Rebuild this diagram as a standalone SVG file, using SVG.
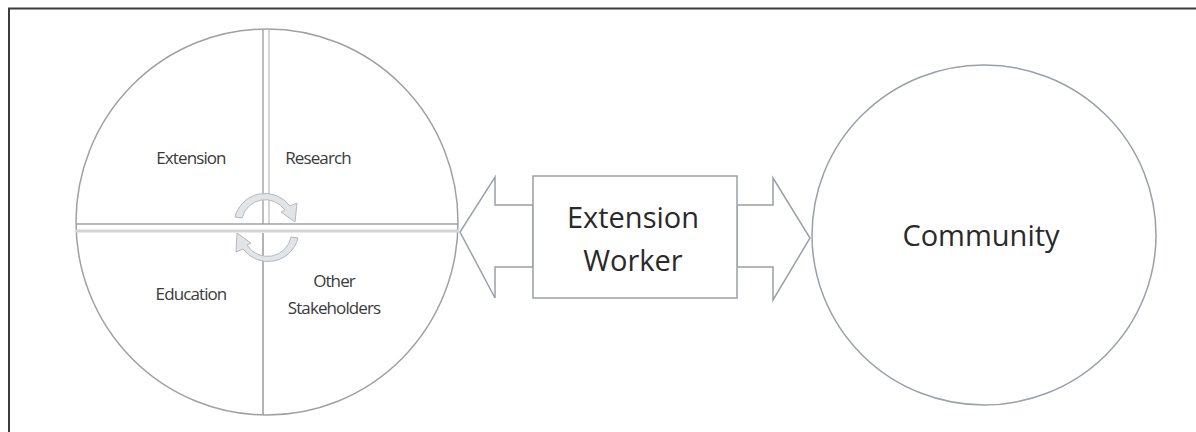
<svg xmlns="http://www.w3.org/2000/svg" width="1196" height="432" viewBox="0 0 1196 432">
  <style>
    .outline { fill: none; stroke: #a0a0a0; stroke-width: 1.5; }
    .shape { fill: #ffffff; stroke: #9aa0a8; stroke-width: 1.5; }
    .small { font-family: "Open Sans", "Noto Sans", sans-serif; font-size: 17px; fill: #3a3a3a; text-anchor: middle; letter-spacing: -0.9px; }
    .big { font-family: "Open Sans", "Noto Sans", sans-serif; font-size: 29px; fill: #2a2a2a; text-anchor: middle; }
    .cycle { fill: #e2e5e8; stroke: #b4b8bd; stroke-width: 1; }
  </style>
  <rect width="1196" height="432" fill="#ffffff"/>
  <!-- frame: top and left edges only -->
  <path d="M9 432 V8.5 H1196" fill="none" stroke="#3c3c3c" stroke-width="2"/>

  <g id="partners">
    <ellipse cx="267" cy="222" rx="191" ry="193" class="outline"/>
    <!-- quadrant dividers -->
    <line x1="263" y1="30" x2="263" y2="224" stroke="#a8a8a8" stroke-width="1.5"/>
    <line x1="269" y1="30" x2="269" y2="224" stroke="#c8c8c8" stroke-width="1.5"/>
    <line x1="76" y1="224" x2="458" y2="224" stroke="#a0a0a0" stroke-width="1.5"/>
    <line x1="76" y1="231" x2="458" y2="231" stroke="#d4d4d4" stroke-width="3"/>
    <line x1="263" y1="233" x2="263" y2="415" stroke="#9a9a9a" stroke-width="1.5"/>
    <!-- cycle arrows -->
    <path class="cycle" d="M235 217 A31 31 0 0 1 290 206 L297 203 L295 222 L281 212 L285 210 A24 24 0 0 0 242 218 Z"/>
    <path class="cycle" d="M298 238 A31 31 0 0 1 243 249 L236 252 L237 233 L251 243 L247 245 A24 24 0 0 0 291 237 Z"/>
    <text class="small" x="191" y="164">Extension</text>
    <text class="small" x="318" y="164">Research</text>
    <text class="small" x="191" y="300">Education</text>
    <text class="small" x="334" y="287">Other</text>
    <text class="small" x="334" y="314">Stakeholders</text>
  </g>

  <g id="connectors">
    <path class="shape" d="M533 205 H495 V177 L460 232 L495 298 V267 H533 Z"/>
    <path class="shape" d="M737 205 H773 V178 L810 238 L773 300 V267 H737 Z"/>
  </g>

  <g id="worker">
    <rect x="533" y="176" width="204" height="122" class="shape"/>
    <text class="big" x="633" y="228">Extension</text>
    <text class="big" x="633" y="271">Worker</text>
  </g>

  <g id="community">
    <ellipse cx="984" cy="235" rx="172" ry="170" class="shape"/>
    <text class="big" x="981" y="246">Community</text>
  </g>
</svg>
